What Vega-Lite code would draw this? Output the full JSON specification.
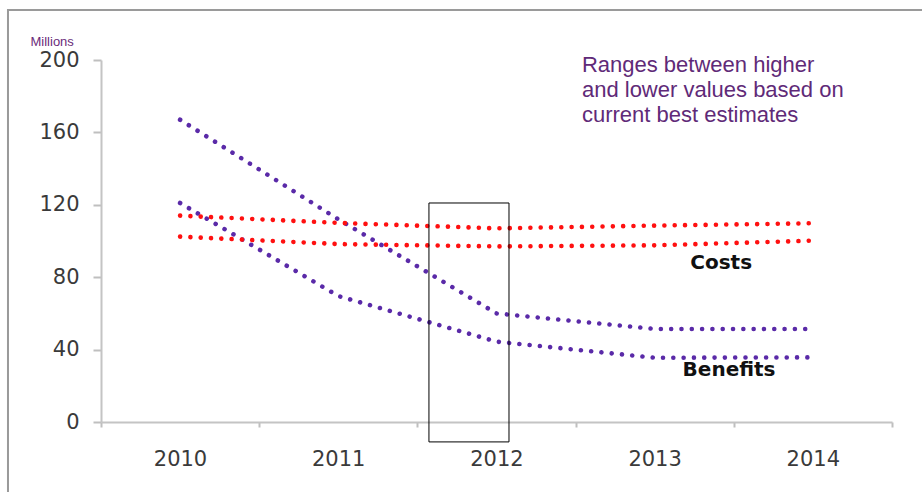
{
  "$schema": "https://vega.github.io/schema/vega-lite/v6.json",
  "width": 791,
  "height": 362,
  "autosize": {"type": "none"},
  "padding": {"left": 101, "top": 60, "right": 30, "bottom": 70},
  "background": "white",
  "config": {"view": {"stroke": null}},
  "datasets": {
    "series": [
      {"year": 2010, "value": 167, "series": "Benefits high", "type": "Benefits"},
      {"year": 2011, "value": 112, "series": "Benefits high", "type": "Benefits"},
      {"year": 2012, "value": 60, "series": "Benefits high", "type": "Benefits"},
      {"year": 2013, "value": 51.4, "series": "Benefits high", "type": "Benefits"},
      {"year": 2014, "value": 51.4, "series": "Benefits high", "type": "Benefits"},
      {"year": 2010, "value": 121, "series": "Benefits low", "type": "Benefits"},
      {"year": 2011, "value": 69.6, "series": "Benefits low", "type": "Benefits"},
      {"year": 2012, "value": 44.4, "series": "Benefits low", "type": "Benefits"},
      {"year": 2013, "value": 35.5, "series": "Benefits low", "type": "Benefits"},
      {"year": 2014, "value": 35.7, "series": "Benefits low", "type": "Benefits"},
      {"year": 2010, "value": 114, "series": "Costs high", "type": "Costs"},
      {"year": 2011, "value": 110, "series": "Costs high", "type": "Costs"},
      {"year": 2012, "value": 107, "series": "Costs high", "type": "Costs"},
      {"year": 2013, "value": 108.5, "series": "Costs high", "type": "Costs"},
      {"year": 2014, "value": 109.8, "series": "Costs high", "type": "Costs"},
      {"year": 2010, "value": 102.4, "series": "Costs low", "type": "Costs"},
      {"year": 2011, "value": 98.3, "series": "Costs low", "type": "Costs"},
      {"year": 2012, "value": 97, "series": "Costs low", "type": "Costs"},
      {"year": 2013, "value": 97.6, "series": "Costs low", "type": "Costs"},
      {"year": 2014, "value": 100.2, "series": "Costs low", "type": "Costs"}
    ]
  },
  "layer": [
    {
      "data": {"values": [{"x1": 2008.912, "x2": 2015.5, "y1": 227.6, "y2": -45}]},
      "mark": {"type": "rect", "fill": null, "stroke": "#9a9a9a", "strokeWidth": 2, "clip": false},
      "encoding": {
        "x": {"field": "x1", "type": "quantitative"},
        "x2": {"field": "x2"},
        "y": {"field": "y1", "type": "quantitative"},
        "y2": {"field": "y2"}
      }
    },
    {
      "data": {"name": "series"},
      "mark": {"type": "line", "strokeWidth": 4.6, "strokeCap": "round", "strokeDash": [0.01, 10.3]},
      "encoding": {
        "x": {
          "field": "year", "type": "quantitative",
          "scale": {"domain": [2009.5, 2014.5], "nice": false, "zero": false},
          "axis": {
            "title": null,
            "values": [2009.5, 2010.5, 2011.5, 2012.5, 2013.5, 2014.5],
            "labelExpr": "datum.value < 2014 ? toString(datum.value + 0.5) : ''",
            "labelOffset": 79,
            "labelOverlap": false,
            "labelBound": false,
            "labelFlush": false,
            "labelFont": "DejaVu Sans",
            "labelFontSize": 21,
            "labelColor": "#3a3a3a",
            "labelPadding": 21,
            "tickSize": 5,
            "tickColor": "#bfbfbf",
            "tickWidth": 2,
            "domainColor": "#c4c4c4",
            "domainWidth": 2,
            "grid": false
          }
        },
        "y": {
          "field": "value", "type": "quantitative",
          "scale": {"domain": [0, 200], "nice": false},
          "axis": {
            "title": "Millions",
            "titleAngle": 0,
            "titleAlign": "left",
            "titleBaseline": "middle",
            "titleX": -71,
            "titleY": -19,
            "titleFont": "Liberation Sans",
            "titleFontSize": 13,
            "titleFontWeight": "normal",
            "titleColor": "#6a2c7a",
            "values": [0, 40, 80, 120, 160, 200],
            "labelFont": "DejaVu Sans",
            "labelFontSize": 21,
            "labelColor": "#3a3a3a",
            "labelPadding": 14,
            "tickSize": 8,
            "tickColor": "#bfbfbf",
            "tickWidth": 2,
            "domainColor": "#c4c4c4",
            "domainWidth": 2,
            "grid": false
          }
        },
        "detail": {"field": "series"},
        "color": {
          "field": "type", "type": "nominal",
          "scale": {"domain": ["Benefits", "Costs"], "range": ["#5a2aa8", "#ff1010"]},
          "legend": null
        }
      }
    },
    {
      "data": {"values": [{"x1": 2011.573, "x2": 2012.079, "y1": 121, "y2": -11}]},
      "mark": {"type": "rect", "fill": null, "stroke": "black", "strokeWidth": 1, "clip": false},
      "encoding": {
        "x": {"field": "x1", "type": "quantitative"},
        "x2": {"field": "x2"},
        "y": {"field": "y1", "type": "quantitative"},
        "y2": {"field": "y2"}
      }
    },
    {
      "data": {"values": [
        {"x": 2013.42, "y": 87.8, "label": "Costs"},
        {"x": 2013.47, "y": 28.7, "label": "Benefits"}
      ]},
      "mark": {"type": "text", "font": "DejaVu Sans", "fontWeight": "bold", "fontSize": 20, "color": "#111111", "align": "center", "baseline": "middle"},
      "encoding": {
        "x": {"field": "x", "type": "quantitative"},
        "y": {"field": "y", "type": "quantitative"},
        "text": {"field": "label"}
      }
    },
    {
      "data": {"values": [
        {"x": 2012.54, "y": 203, "label": "Ranges between higher\nand lower values based on\ncurrent best estimates"}
      ]},
      "mark": {"type": "text", "font": "Liberation Sans", "fontSize": 22, "color": "#5f2a78", "align": "left", "baseline": "top", "lineBreak": "\n", "lineHeight": 25},
      "encoding": {
        "x": {"field": "x", "type": "quantitative"},
        "y": {"field": "y", "type": "quantitative"},
        "text": {"field": "label"}
      }
    }
  ]
}
